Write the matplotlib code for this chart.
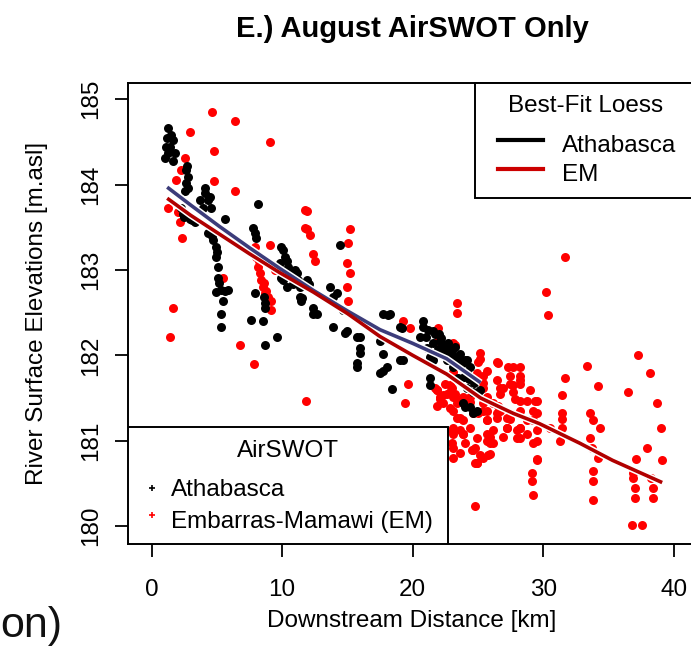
import matplotlib
matplotlib.use("Agg")
import matplotlib.pyplot as plt
from matplotlib.patches import Rectangle

plt.rcParams['font.family'] = ['Liberation Sans', 'DejaVu Sans']

# AirSWOT water surface samples, Athabasca channel (km downstream, m asl)
ath_km = [1.26, 1.49, 1.65, 1.42, 1.26, 1.03, 1.65, 1.80, 1.18, 1.10,
          2.64, 2.79, 2.64, 2.57, 2.79, 2.72,
          2.41, 2.95, 3.33, 2.26, 2.50, 3.10, 2.57,
          4.10, 3.71, 4.33, 4.56, 3.94, 4.10, 4.45, 5.63,
          4.33, 4.71, 4.94, 4.94, 5.09, 5.09, 5.32, 4.94, 5.86, 5.47, 5.32, 5.32, 5.00, 5.20, 5.60, 4.60,
          8.15, 7.77, 8.00, 7.90,
          7.92, 8.69, 8.69, 7.62, 8.54, 8.69, 9.61, 8.60,
          9.92, 10.22, 10.45, 9.92, 10.99, 11.45, 11.22, 10.07, 11.14, 12.06, 10.83, 10.07, 11.52, 10.40, 10.60,
          12.37, 12.67, 13.90, 13.90, 14.82, 15.97, 14.66, 14.43,
          17.70, 18.26, 19.18, 15.97,
          9.84, 10.38, 11.37, 11.91, 11.37, 12.37, 14.97, 13.67, 14.20,
          15.74, 15.97, 15.74, 15.74, 17.50, 17.73, 18.03, 17.50, 18.41, 19.03, 18.11,
          20.79, 20.56, 21.55, 22.63, 23.09, 23.85, 24.39, 25.15, 24.16, 23.09, 22.63, 22.09, 21.09, 21.32, 21.55,
          22.86, 23.39, 24.16, 21.55, 21.32, 23.47, 24.16, 24.62, 25.00, 23.85, 24.39, 24.92, 19.03, 19.26,
          17.73, 21.32, 22.00, 22.30, 23.60,
          20.80, 21.20, 21.70, 22.20, 22.70, 23.20, 23.60, 24.00, 21.00, 21.90, 22.40, 23.00,
          24.30, 24.70, 23.90, 24.00, 24.60]
ath_elev = [184.66, 184.58, 184.52, 184.44, 184.37, 184.31, 184.28, 184.37, 184.55, 184.44,
            184.17, 184.09, 184.02, 183.93, 183.96, 184.22,
            183.66, 183.60, 183.56, 183.73, 183.62, 183.58, 183.64,
            183.90, 183.82, 183.82, 183.73, 183.73, 183.96, 183.86, 183.60,
            183.43, 183.35, 183.27, 183.15, 183.03, 182.91, 182.76, 182.74, 182.76, 182.64, 182.49, 182.33, 183.21, 182.85, 182.75, 183.40,
            183.77, 183.49, 183.38, 183.43,
            182.73, 182.61, 182.55, 182.41, 182.40, 182.12, 182.21, 182.68,
            183.27, 183.15, 183.03, 182.91, 183.00, 182.64, 182.88, 183.23, 182.96, 182.84, 182.84, 182.88, 182.67, 183.10, 182.95,
            182.56, 182.49, 182.68, 182.33, 182.26, 182.09, 182.53, 183.29,
            182.49, 182.49, 182.32, 182.21,
            183.08, 182.80, 182.80, 182.88, 182.68, 182.49, 182.29, 182.80, 182.73,
            182.21, 182.03, 181.91, 181.86, 182.17, 182.01, 181.86, 181.79, 181.61, 181.94, 182.47,
            182.33, 182.21, 182.14, 182.09, 181.98, 181.91, 181.86, 181.59, 181.79, 181.86, 181.94, 182.17, 182.09, 181.98, 182.29,
            182.02, 181.98, 181.94, 181.94, 181.74, 181.73, 181.62, 181.57, 181.57, 181.44, 181.39, 181.35, 182.33, 181.94,
            181.82, 181.65, 182.25, 182.05, 181.92,
            182.40, 182.30, 182.25, 182.20, 182.15, 182.10, 182.02, 181.95, 182.22, 182.08, 182.12, 182.05,
            181.72, 181.68, 181.75, 181.40, 181.33]

# AirSWOT samples, Embarras-Mamawi channel
em_km = [4.63, 6.39, 2.98, 9.07, 4.79, 2.57, 2.26, 4.79, 6.39, 1.88, 1.26, 2.03, 2.18, 2.34,
         11.75, 11.75, 9.07, 5.47,
         7.92, 8.00, 8.15, 8.31, 8.38, 8.54, 8.69, 8.92, 9.15, 9.15, 9.46, 8.20, 8.60, 8.80, 7.85,
         1.65, 1.42, 6.78, 7.85, 11.83,
         11.91, 11.91, 12.14, 12.37, 12.52, 15.20, 15.05, 14.97, 15.20, 14.97, 15.05,
         31.66, 30.21, 30.36, 23.39, 23.39, 19.26, 19.79, 21.94, 25.15, 25.15, 26.53, 28.22,
         19.64, 19.41, 33.35, 31.66, 34.19, 31.43, 31.43, 31.43, 33.57, 33.80, 34.34, 33.57,
         33.73, 34.19, 33.80, 33.80, 33.80, 36.48, 37.25, 38.17, 38.71, 39.01, 39.09, 37.94,
         37.10, 36.87, 36.87, 37.02, 37.02, 38.40, 38.40, 38.25, 36.79, 37.56,
         29.52, 29.14, 29.14, 29.21, 24.77, 31.43, 31.28, 30.51,
         23.01, 23.01, 23.62, 24.62, 25.38, 24.92, 25.92, 28.75, 29.52, 27.99,
         21.94, 23.09, 21.86, 22.32, 22.86, 23.39, 22.32, 23.09, 23.62, 23.85, 23.09, 23.62,
         24.54, 25.77, 24.77, 25.69, 25.69, 25.38, 26.15, 26.68, 27.22, 27.99, 29.21,
         25.69, 26.68, 27.45, 28.22, 27.68, 28.75, 29.52, 26.46, 25.38, 25.69, 24.92, 24.39,
         24.62, 26.46, 27.45, 28.22, 29.21, 29.21, 25.92, 28.22, 28.22, 27.68, 27.30, 26.46,
         28.22, 25.38, 23.01, 22.47, 21.71, 22.09, 23.85, 21.86, 22.86, 23.09, 23.24,
         23.24, 25.00, 25.38, 26.91, 27.45, 28.22, 27.68, 28.98, 26.68, 27.83, 29.37, 29.52,
         28.75, 28.22, 29.52, 28.22, 27.22, 26.91, 26.15, 25.69, 25.00, 25.69, 26.46, 27.22,
         25.38, 21.86, 22.09, 22.63, 23.09, 23.39, 22.86, 23.39, 23.85, 24.39, 23.85, 23.09,
         24.92, 25.69, 24.77, 25.15, 25.92, 26.15, 24.92, 23.09, 29.52, 23.09, 24.00, 26.53, 24.39]
em_elev = [184.85, 184.74, 184.62, 184.50, 184.39, 184.31, 184.17, 184.04, 183.93, 184.05, 183.72, 183.68, 183.56, 183.37,
           183.70, 183.49, 183.29, 182.90,
           183.27, 183.15, 183.03, 182.96, 182.88, 182.80, 182.73, 182.68, 182.64, 182.53, 183.00, 183.10, 182.85, 182.75, 183.20,
           182.55, 182.22, 182.12, 181.90, 181.47,
           183.69, 183.48, 183.41, 183.19, 183.11, 183.48, 183.31, 183.08, 182.97, 182.80, 182.64,
           183.15, 182.74, 182.47, 182.61, 182.50, 182.40, 182.32, 182.32, 182.03, 181.96, 181.91, 181.71,
           181.67, 181.44, 181.88, 181.74, 181.64, 181.53, 181.33, 181.26, 181.33, 181.24, 181.15, 181.03,
           180.92, 180.80, 180.65, 180.53, 180.30, 181.57, 182.00, 181.79, 181.44, 181.15, 180.77, 180.92,
           180.79, 180.62, 180.56, 180.45, 180.33, 180.45, 180.33, 180.56, 180.01, 180.01,
           180.77, 180.62, 180.53, 180.36, 180.24, 181.15, 181.00, 181.15,
           181.12, 180.97, 181.12, 180.89, 180.80, 180.74, 180.97, 181.08, 181.00, 181.03,
           182.17, 182.14, 181.59, 181.53, 181.57, 181.49, 181.44, 181.35, 181.27, 181.08, 180.92, 180.86,
           180.89, 180.83, 180.74, 181.24, 181.08, 181.35, 181.44, 181.35, 181.15, 181.12, 180.97,
           181.51, 181.62, 181.67, 181.67, 181.57, 181.47, 181.47, 181.71, 181.76, 181.82, 181.79, 181.45,
           181.32, 181.27, 181.26, 181.35, 181.35, 181.24, 181.04, 181.15, 181.86, 181.86, 181.86, 181.92,
           181.47, 181.62, 181.62, 181.67, 181.62, 181.49, 181.51, 181.41, 181.65, 181.80, 181.55,
           182.12, 181.92, 181.68, 181.62, 181.76, 181.76, 181.65, 181.59, 181.55, 181.49, 181.47, 181.33,
           181.24, 181.15, 181.12, 181.03, 181.15, 181.04, 181.12, 181.24, 181.32, 181.35, 181.32, 181.27,
           181.44, 181.59, 181.51, 181.55, 181.51, 181.44, 181.38, 181.27, 181.24, 181.15, 181.08, 181.08,
           181.03, 181.00, 180.91, 180.83, 180.85, 180.97, 180.74, 180.80, 180.79, 181.15, 180.97, 181.41, 181.51]

# best-fit loess curves
ath_fit_km = [1.2, 3.0, 5.2, 7.5, 9.8, 12.4, 15.0, 17.5, 20.0, 22.6, 25.2]
ath_fit_elev = [183.97, 183.76, 183.51, 183.26, 183.02, 182.76, 182.52, 182.30, 182.14, 181.96, 181.68]
em_fit_km = [1.2, 3.0, 5.2, 7.5, 9.8, 12.4, 15.0, 17.5, 20.0, 22.6, 25.2, 27.7, 29.7, 32.8, 35.3, 39.1]
em_fit_elev = [183.84, 183.64, 183.42, 183.19, 182.97, 182.74, 182.49, 182.22, 182.00, 181.78,
               181.50, 181.32, 181.20, 180.97, 180.77, 180.51]

x_ticks = [0, 10, 20, 30, 40]
y_ticks = [180, 181, 182, 183, 184, 185]

FS = 17.5

fig = plt.figure(figsize=(6.91, 6.6), dpi=100)
ax = fig.add_axes([128 / 691, 116 / 660, 568 / 691, 461 / 660])

ax.scatter(em_km, em_elev, s=42, color='#ff0000', linewidths=0, zorder=2)
ax.scatter(ath_km, ath_elev, s=42, color='black', linewidths=0, zorder=3)

# loess lines with white edge
ax.plot(ath_fit_km, ath_fit_elev, color='white', lw=4.8, zorder=4, solid_capstyle='butt')
ax.plot(ath_fit_km, ath_fit_elev, color='#3c3c7a', lw=2.6, zorder=5, solid_capstyle='butt')
ax.plot(em_fit_km, em_fit_elev, color='white', lw=4.8, zorder=4, solid_capstyle='butt')
ax.plot(em_fit_km, em_fit_elev, color='#b00000', lw=2.6, zorder=5, solid_capstyle='butt')

ax.set_xlim(-1.8, 41.69)
ax.set_ylim(179.79, 185.19)
ax.set_xticks(x_ticks)
ax.set_yticks(y_ticks)
ax.set_xticklabels([str(v) for v in x_ticks])
ax.set_yticklabels([str(v) for v in y_ticks], rotation=90, va='center')
ax.tick_params(direction='out', length=9.4, width=1.3, labelsize=FS, colors='black')
ax.tick_params(axis='x', pad=16)
ax.tick_params(axis='y', pad=9)
for sp in ax.spines.values():
    sp.set_linewidth(1.4)
ax.spines['right'].set_visible(False)

ax.set_title('E.) August AirSWOT Only', fontsize=21, fontweight='bold', pad=33)
ax.set_xlabel('Downstream Distance [km]', fontsize=FS)
ax.set_ylabel('River Surface Elevations [m.asl]', fontsize=FS)
ax.xaxis.set_label_coords(0.5, -0.143)
ax.yaxis.set_label_coords(-0.141, 0.5)

# legend for the fitted curves (top right)
tr = ax.transAxes
ax.add_patch(Rectangle((0.611, 0.7505), 0.45, 0.2495, transform=tr, facecolor='white',
                       edgecolor='black', lw=1.4, zorder=6, clip_on=False))
ax.text(0.8055, 0.937, 'Best-Fit Loess', transform=tr, fontsize=FS, ha='center', va='baseline', zorder=7)
ax.plot([0.651, 0.731], [0.876, 0.876], transform=tr, color='black', lw=3, zorder=7)
ax.plot([0.651, 0.731], [0.813, 0.813], transform=tr, color='#cc0000', lw=3, zorder=7)
ax.text(0.764, 0.850, 'Athabasca', transform=tr, fontsize=FS, va='baseline', zorder=7)
ax.text(0.764, 0.787, 'EM', transform=tr, fontsize=FS, va='baseline', zorder=7)

# legend for the point samples (bottom left)
ax.add_patch(Rectangle((0, 0), 0.5634, 0.2538, transform=tr, facecolor='white',
                       edgecolor='black', lw=1.4, zorder=6))
ax.text(0.2817, 0.189, 'AirSWOT', transform=tr, fontsize=FS, ha='center', va='baseline', zorder=7)
ax.plot([0.0423], [0.1215], transform=tr, marker='+', color='black', ms=5, mew=1.2, zorder=7)
ax.plot([0.0423], [0.0629], transform=tr, marker='+', color='#ff0000', ms=5, mew=1.2, zorder=7)
ax.text(0.0757, 0.104, 'Athabasca', transform=tr, fontsize=FS, va='baseline', zorder=7)
ax.text(0.0757, 0.0347, 'Embarras-Mamawi (EM)', transform=tr, fontsize=FS, va='baseline', zorder=7)

fig.text(0.0, 23 / 660, 'on)', fontsize=31, color='#111111', va='baseline', ha='left')

fig.savefig('out.png', dpi=100)
